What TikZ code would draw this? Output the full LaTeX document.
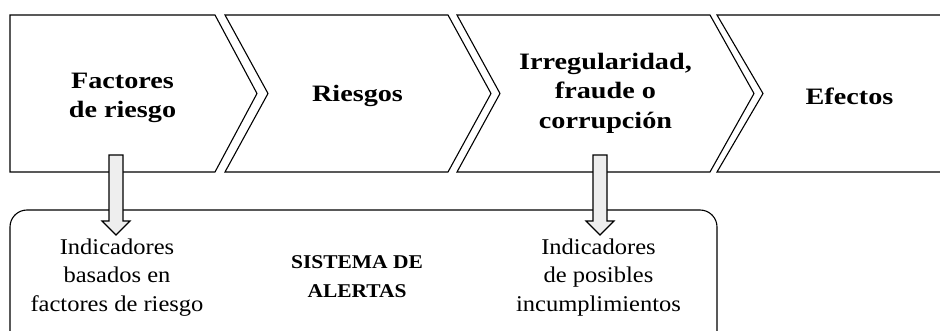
\documentclass[tikz,border=0pt]{standalone}
\usepackage{fontspec}
\setmainfont{Liberation Serif}
\newcommand{\hstretch}[2]{\scalebox{#1}[1]{\begin{tabular}{@{}c@{}}#2\end{tabular}}}
\begin{document}
\begin{tikzpicture}[x=1pt,y=-1pt,
  chev/.style={draw=black,line width=1.1pt,line join=miter},
  headtxt/.style={align=center,inner sep=0pt,font=\bfseries\fontsize{23.5}{29.5}\selectfont},
  bodytxt/.style={align=center,inner sep=0pt,font=\fontsize{22.5}{28.5}\selectfont},
  systxt/.style={align=center,inner sep=0pt,font=\bfseries\fontsize{19.5}{29}\selectfont},
  alertbox/.style={draw=black,line width=1.1pt,rounded corners=17pt},
  blockarrow/.style={draw=black,line width=1.1pt,fill=gray!13,line join=miter}]
\useasboundingbox (0,0) rectangle (940,331);
\clip (0,0) rectangle (940,331);
% chevrons
\draw[chev] (10,15) -- (215,15) -- (257,93.5) -- (215,172) -- (10,172) -- cycle;
\draw[chev] (225,15) -- (448,15) -- (491,93.5) -- (448,172) -- (225,172) -- (268,93.5) -- cycle;
\draw[chev] (457,15) -- (710,15) -- (754,93.5) -- (710,172) -- (457,172) -- (500,93.5) -- cycle;
\draw[chev] (960,15) -- (717,15) -- (763,93.5) -- (717,172) -- (960,172);
% chevron labels
\node[headtxt] (fac) at (122.5,97) {\hstretch{1.2}{Factores\\de riesgo}};
\node[headtxt] (rie) at (357.5,96) {\hstretch{1.2}{Riesgos}};
\node[headtxt] (irr) at (605.5,93) {\hstretch{1.2}{Irregularidad,\\fraude o\\corrupción}};
\node[headtxt] (efe) at (849.5,99) {\hstretch{1.2}{Efectos}};
% alert system box
\draw[alertbox] (10,345) -- (10,210) -- (717,210) -- (717,345);
\node[bodytxt] (ind1) at (117,277) {\hstretch{1.09}{Indicadores\\basados en\\factores de riesgo}};
\node[systxt] (sis) at (357,277) {\hstretch{1.1}{SISTEMA DE\\ALERTAS}};
\node[bodytxt] (ind2) at (598.5,277) {\hstretch{1.09}{Indicadores\\de posibles\\incumplimientos}};
% block arrows
\coordinate (a1) at (116,155);
\coordinate (a2) at (600,155);
\foreach \c in {a1,a2}{
  \draw[blockarrow] (\c) ++(-7,0) -- ++(14,0) -- ++(0,66) -- ++(7,0) -- ++(-14,14) -- ++(-14,-14) -- ++(7,0) -- cycle;
}
\end{tikzpicture}
\end{document}
